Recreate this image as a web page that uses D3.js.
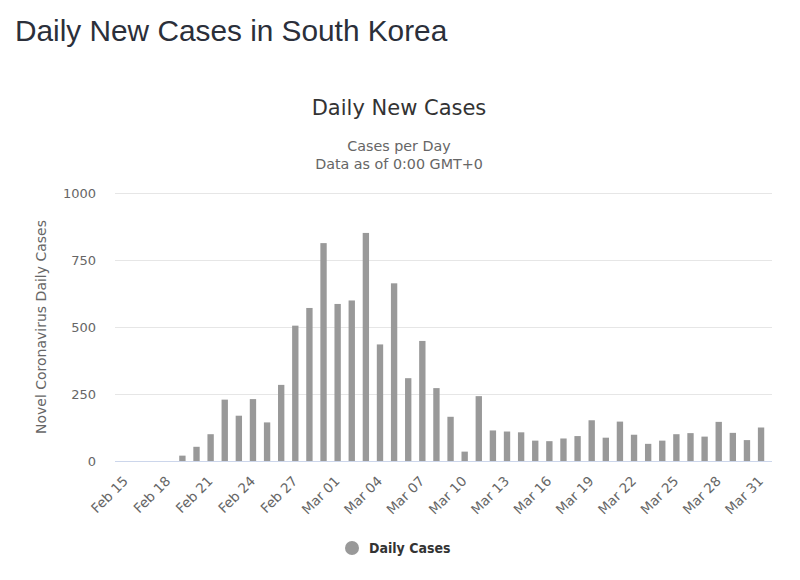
<!DOCTYPE html>
<html>
  <head>
    <script src="https://cdn.jsdelivr.net/npm/d3@7/dist/d3.min.js"></script>
    <style>
      body { margin: 0; background: #fff; }
    </style>
  </head>
  <body>
    <svg id="chart" width="800" height="580"></svg>

    <script>
      // days from Feb 15 to Mar 31 (2020)
      var days = ["Feb 15","Feb 16","Feb 17","Feb 18","Feb 19","Feb 20","Feb 21","Feb 22","Feb 23","Feb 24",
        "Feb 25","Feb 26","Feb 27","Feb 28","Feb 29","Mar 01","Mar 02","Mar 03","Mar 04","Mar 05",
        "Mar 06","Mar 07","Mar 08","Mar 09","Mar 10","Mar 11","Mar 12","Mar 13","Mar 14","Mar 15",
        "Mar 16","Mar 17","Mar 18","Mar 19","Mar 20","Mar 21","Mar 22","Mar 23","Mar 24","Mar 25",
        "Mar 26","Mar 27","Mar 28","Mar 29","Mar 30","Mar 31"];
      var dailyCases = [0, 0, 0, 0, 20, 53, 100, 229, 169, 231,
        144, 284, 505, 571, 813, 586, 599, 851, 435, 663,
        309, 448, 272, 165, 35, 242, 114, 110, 107, 76,
        74, 84, 93, 152, 87, 147, 98, 64, 76, 100,
        104, 91, 146, 105, 78, 125];
      var yTicks = [0, 250, 500, 750, 1000];
      var seriesName = "Daily Cases";

      var svg = d3.select("#chart");
      var font = "'DejaVu Sans', Verdana, sans-serif";
      var plotLeft = 115, plotRight = 772, plotTop = 193, plotBottom = 461;

      svg.append("text")
        .attr("x", 15).attr("y", 41)
        .attr("font-family", "'Liberation Sans', Arial, sans-serif")
        .attr("font-size", 29.8)
        .attr("fill", "#2b2f3a")
        .text("Daily New Cases in South Korea");

      svg.append("text")
        .attr("x", 399).attr("y", 115)
        .attr("text-anchor", "middle")
        .attr("font-family", font)
        .attr("font-size", 21)
        .attr("fill", "#333")
        .text("Daily New Cases");

      svg.append("text")
        .attr("x", 399).attr("y", 151)
        .attr("text-anchor", "middle")
        .attr("font-family", font)
        .attr("font-size", 14.3)
        .attr("fill", "#666")
        .text("Cases per Day");
      svg.append("text")
        .attr("x", 399).attr("y", 169)
        .attr("text-anchor", "middle")
        .attr("font-family", font)
        .attr("font-size", 14.3)
        .attr("fill", "#666")
        .text("Data as of 0:00 GMT+0");

      var x = d3.scaleBand().domain(days).range([plotLeft, plotRight]).padding(0.55);
      var y = d3.scaleLinear().domain([0, 1000]).range([plotBottom, plotTop]);

      // grid lines
      svg.append("g")
        .selectAll("line")
        .data(yTicks)
        .join("line")
        .attr("x1", plotLeft).attr("x2", plotRight)
        .attr("y1", d => y(d) + 0.5).attr("y2", d => y(d) + 0.5)
        .attr("stroke", "#e6e6e6");

      var yAxis = svg.append("g")
        .attr("transform", "translate(" + (plotLeft - 19) + ",0)")
        .call(d3.axisLeft(y).tickValues(yTicks).tickFormat(d3.format("d")).tickSize(0).tickPadding(0));
      yAxis.select(".domain").remove();
      yAxis.selectAll("text")
        .attr("font-family", font)
        .attr("font-size", 13)
        .attr("fill", "#666")
        .attr("dy", "0.35em");

      svg.append("text")
        .attr("transform", "translate(46," + ((plotTop + plotBottom) / 2) + ") rotate(-90)")
        .attr("text-anchor", "middle")
        .attr("font-family", font)
        .attr("font-size", 14)
        .attr("fill", "#666")
        .text("Novel Coronavirus Daily Cases");

      // bars
      svg.append("g")
        .selectAll("rect")
        .data(days)
        .join("rect")
        .attr("x", d => x(d))
        .attr("width", x.bandwidth())
        .attr("y", (d, i) => y(dailyCases[i]))
        .attr("height", (d, i) => plotBottom - y(dailyCases[i]))
        .attr("fill", "#999999");

      // x axis
      var xAxis = svg.append("g")
        .attr("transform", "translate(0," + plotBottom + ")")
        .call(d3.axisBottom(x)
          .tickValues(days.filter((d, i) => i % 3 === 0))
          .tickSize(0).tickPadding(0));
      xAxis.select(".domain")
        .attr("stroke", "#ccd6eb")
        .attr("d", "M" + plotLeft + ",0.5H" + plotRight);
      xAxis.selectAll("text")
        .attr("font-family", font)
        .attr("font-size", 13.5)
        .attr("fill", "#666")
        .attr("text-anchor", "end")
        .attr("dy", null)
        .attr("y", 0)
        .attr("transform", "translate(3,21) rotate(-45)");

      // legend
      var legend = svg.append("g").attr("transform", "translate(352,548)");
      legend.append("circle").attr("r", 7).attr("fill", "#999999");
      legend.append("text")
        .attr("x", 17).attr("y", 5)
        .attr("font-family", "'DejaVu Sans Condensed', 'DejaVu Sans', sans-serif")
        .attr("font-stretch", "condensed")
        .attr("font-size", 14)
        .attr("font-weight", "bold")
        .attr("fill", "#333")
        .text(seriesName);
    </script>
  </body>
</html>
